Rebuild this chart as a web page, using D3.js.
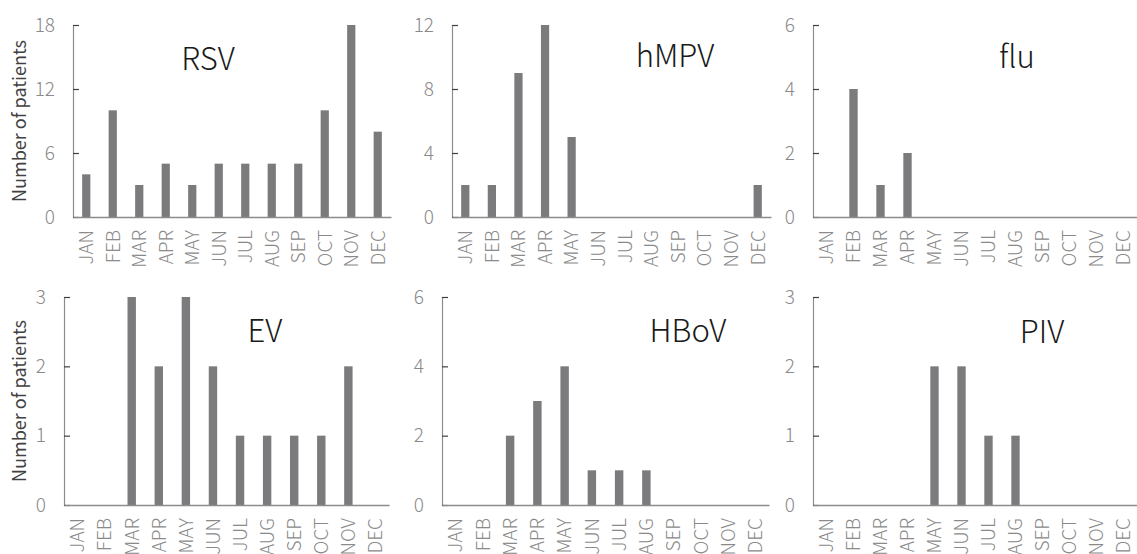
<!DOCTYPE html>
<html lang="en">
  <head>
    <meta charset="UTF-8" />
    <script src="https://d3js.org/d3.v7.min.js"></script>
    <title>Monthly patients by virus</title>
    <style>
      body { margin: 0; background: #fff; }
      text { font-family: "Noto Sans CJK JP", "Noto Sans", sans-serif; }
    </style>
  </head>
  <body>
    <svg id="chart" width="1137" height="554"></svg>
  </body>
  <script>
    // months on the x axis
    var months = ["JAN", "FEB", "MAR", "APR", "MAY", "JUN", "JUL", "AUG", "SEP", "OCT", "NOV", "DEC"];

    // patients per month, one array per virus
    var rsv = [4, 10, 3, 5, 3, 5, 5, 5, 5, 10, 18, 8];
    var hmpv = [2, 2, 9, 12, 5, 0, 0, 0, 0, 0, 0, 2];
    var flu = [0, 4, 1, 2, 0, 0, 0, 0, 0, 0, 0, 0];
    var ev = [0, 0, 3, 2, 3, 2, 1, 1, 1, 1, 2, 0];
    var hbov = [0, 0, 2, 3, 4, 1, 1, 1, 0, 0, 0, 0];
    var piv = [0, 0, 0, 0, 2, 2, 1, 1, 0, 0, 0, 0];

    var names = ["RSV", "hMPV", "flu", "EV", "HBoV", "PIV"];
    var series = [rsv, hmpv, flu, ev, hbov, piv];
    var yMax = [18, 12, 6, 3, 6, 3];
    var yTicks = [[0, 6, 12, 18], [0, 4, 8, 12], [0, 2, 4, 6], [0, 1, 2, 3], [0, 2, 4, 6], [0, 1, 2, 3]];

    // panel frames: left, right, top, zero line, title x, title baseline
    var frames = [
      [73, 391, 25, 217, 208, 70],
      [452, 771, 25, 217, 675, 67],
      [813, 1137, 25, 217, 1017, 68],
      [64, 389, 297, 505, 265, 342],
      [442, 769, 297, 505, 688, 342],
      [813, 1137, 297, 505, 1042, 343]
    ];

    var svg = d3.select("#chart");

    series.forEach(function (vals, i) {
      var f = frames[i];
      var g = svg.append("g");

      var x = d3.scaleBand().domain(months).range([f[0], f[1]]).paddingInner(0.69).paddingOuter(0.345);
      var y = d3.scaleLinear().domain([0, yMax[i]]).range([f[3], f[2]]);

      // bars
      g.selectAll("rect")
        .data(vals)
        .enter()
        .append("rect")
        .attr("x", (d, j) => x(months[j]))
        .attr("y", (d) => y(d))
        .attr("width", x.bandwidth())
        .attr("height", (d) => y(0) - y(d))
        .attr("fill", "#7b7b7d");

      // y axis, ticks pointing inwards
      var yAx = g.append("g")
        .attr("transform", "translate(" + f[0] + ",0)")
        .call(d3.axisLeft(y).tickValues(yTicks[i]).tickFormat(d3.format("d"))
          .tickSizeInner(-6).tickSizeOuter(0).tickPadding(18));
      yAx.select(".domain").attr("stroke", "#8c8c8c").attr("stroke-width", 1.2);
      yAx.selectAll(".tick line").attr("stroke", "#404040").attr("stroke-width", 1.2);
      yAx.selectAll(".tick text")
        .attr("fill", "#8a8a8a")
        .style("font-size", "19px")
        .style("font-weight", 300);

      // x axis with rotated month names
      var xAx = g.append("g")
        .attr("transform", "translate(0," + f[3] + ")")
        .call(d3.axisBottom(x).tickSize(0).tickSizeOuter(0));
      xAx.select(".domain").attr("stroke", "#8c8c8c").attr("stroke-width", 1.6);
      xAx.selectAll(".tick text")
        .attr("transform", "rotate(-90)")
        .attr("x", -13)
        .attr("y", 0)
        .attr("dy", "0.36em")
        .attr("text-anchor", "end")
        .attr("fill", "#8a8a8a")
        .style("font-size", "19px")
        .style("font-weight", 300);

      // panel title
      g.append("text")
        .attr("x", f[4])
        .attr("y", f[5])
        .attr("text-anchor", "middle")
        .style("font-size", "31px")
        .style("font-weight", 300)
        .style("fill", "#1a1a1a")
        .text(names[i]);

      // y title on the left column only
      if (i % 3 === 0) {
        svg.append("text")
          .attr("transform", "translate(26," + (f[2] + f[3]) / 2 + ") rotate(-90)")
          .attr("text-anchor", "middle")
          .style("font-size", "18px")
          .style("fill", "#404040")
          .text("Number of patients");
      }
    });
  </script>
</html>
